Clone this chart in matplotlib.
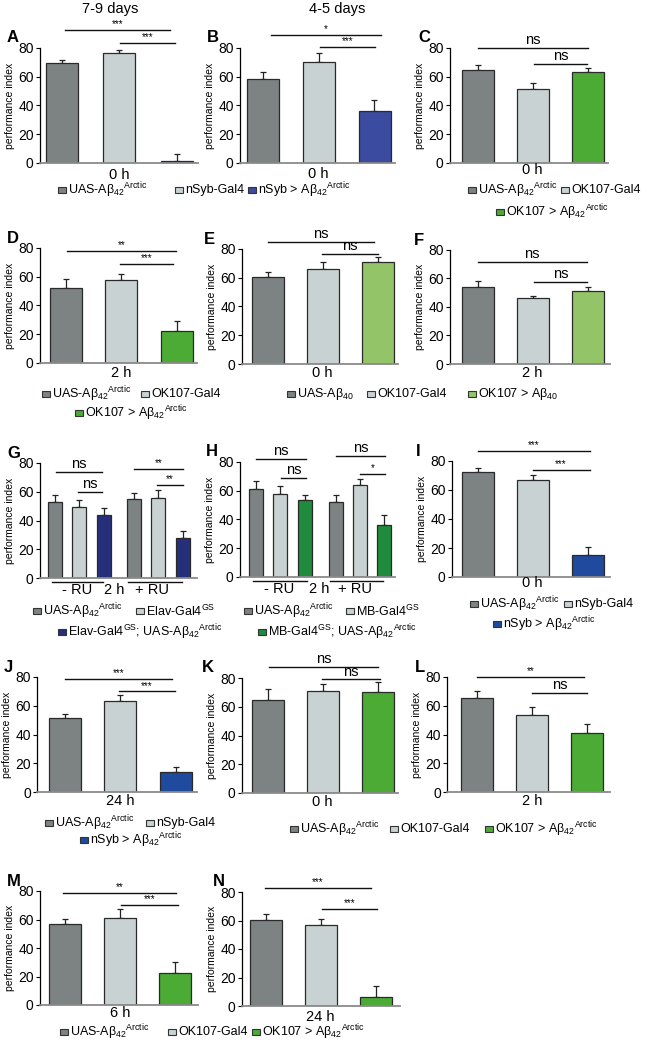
import numpy as np
import matplotlib
matplotlib.use('Agg')
import matplotlib.pyplot as plt
from matplotlib.patches import Rectangle

plt.rcParams['font.family'] = ['Liberation Sans', 'DejaVu Sans']
plt.rcParams['mathtext.fontset'] = 'custom'
plt.rcParams['mathtext.rm'] = 'Liberation Sans'
plt.rcParams['mathtext.it'] = 'Liberation Sans:italic'
plt.rcParams['mathtext.bf'] = 'Liberation Sans:bold'

W, H = 657, 1051

# ---- data (performance index, mean and upper SEM) ----
a_mean = [69.5, 76.5, 1.5];   a_err = [2.3, 2.3, 4.7]
b_mean = [58.5, 70.5, 36];    b_err = [4.5, 6, 7.5]
c_mean = [65, 51.5, 63.3];    c_err = [3.4, 4.1, 2.8]
d_mean = [52.5, 58, 22];      d_err = [5.8, 4.1, 7.4]
e_mean = [60.5, 66.3, 70.7];  e_err = [3.2, 4.4, 3.7]
f_mean = [53.9, 46.2, 51.5];  f_err = [4.4, 1.4, 2.6]
g_mean = [53.2, 49.7, 43.8, 54.8, 55.5, 27.5]; g_err = [4.2, 4.6, 5.2, 4.2, 5.8, 5.4]
h_mean = [61.4, 58, 53.8, 52.2, 64.2, 36.4];   h_err = [5.4, 5, 3, 5.1, 4.2, 7]
i_mean = [72.6, 66.9, 15];    i_err = [2.3, 3.4, 5.7]
j_mean = [51.5, 63.5, 13.7];  j_err = [2.8, 4.2, 3.7]
k_mean = [64.8, 71.1, 70.2];  k_err = [7.5, 4.7, 6.8]
l_mean = [65.3, 53.6, 40.8];  l_err = [5.1, 5.4, 6.3]
m_mean = [56.8, 60.8, 22.7];  m_err = [3.6, 6.6, 7.7]
n_mean = [60.6, 57.1, 6.1];   n_err = [4.2, 4.2, 8.1]

pos3 = [0, 1, 2]
pos6 = [0, 1, 2, 3.25, 4.25, 5.25]

# significance: (x0, x1, y, label)
a_sig = [(0.06, 1.88, 92.5, '***'), (1.01, 1.97, 83.5, '***')]
b_sig = [(0.14, 2.12, 89, '*'), (1.02, 2.01, 80.7, '***')]
c_sig = [(0, 2, 80, 'ns'), (1.03, 1.99, 69, 'ns')]
d_sig = [(0.03, 1.99, 78, '**'), (0.98, 1.94, 69, '***')]
e_sig = [(0, 1.93, 85, 'ns'), (0.99, 2.0, 76.5, 'ns')]
f_sig = [(0, 1.99, 71.6, 'ns'), (1.03, 1.99, 57.7, 'ns')]
g_sig = [(0.04, 1.93, 73.7, 'ns'), (0.95, 1.93, 60, 'ns'),
         (3.25, 5.27, 76, '**'), (4.2, 5.27, 65, '**')]
h_sig = [(0, 2.04, 82, 'ns'), (1.02, 2.04, 69, 'ns'),
         (3.27, 5.27, 84, 'ns'), (4.25, 5.27, 71.6, '*')]
i_sig = [(0, 2.04, 87, '***'), (1.0, 2.04, 74, '***')]
j_sig = [(0, 1.94, 78.6, '***'), (0.98, 1.99, 70, '***')]
k_sig = [(0.02, 2.01, 87.6, 'ns'), (0.99, 2.05, 79, 'ns')]
l_sig = [(0, 1.95, 80, '**'), (1.0, 2.0, 69, 'ns')]
m_sig = [(-0.03, 2.02, 78.6, '**'), (1.02, 2.05, 70, '***')]
n_sig = [(-0.01, 1.91, 83, '***'), (1.02, 2.02, 68, '***')]

# colours
dg = '#7c8382'
lg = '#c8d2d2'
navy_a = '#2b3990'
navy_b = '#3b4b9f'
navy_g = '#252f7a'
blue_i = '#1f4a9e'
green = '#4bab35'
lgreen = '#93c468'
dgreen = '#1f8b3c'

arc = 'Aβ$_{42}{}^{\\mathrm{Arctic}}$'
ab40 = 'Aβ$_{40}$'

fig = plt.figure(figsize=(W / 100, H / 100), dpi=100)


def panel(letter, left, right, top, zero, c0, clast, pos, mean, err, colors, sig, xlabel,
          xl_off=10, letter_x=None, bar_px=32):
    unit = (clast - c0) / (pos[-1] - pos[0])
    ax = fig.add_axes([left / W, 1 - zero / H, (right - left) / W, (zero - top) / H])
    x0 = -(c0 - left) / unit
    ax.bar(pos, mean, width=bar_px / unit, color=colors, edgecolor='#2a2a2a', linewidth=0.9, zorder=2)
    ax.errorbar(pos, mean, yerr=[np.zeros(len(mean)), err], fmt='none', ecolor='#222',
                elinewidth=0.9, capsize=2, capthick=0.9, zorder=1)
    ax.set_xlim(x0, x0 + (right - left) / unit)
    ax.set_ylim(0, 80)
    ax.set_yticks([0, 20, 40, 60, 80])
    ax.set_xticks([])
    ax.tick_params(axis='y', labelsize=10, length=3, width=0.8, pad=1.5)
    for s in ['top', 'right']:
        ax.spines[s].set_visible(False)
    ax.spines['left'].set_linewidth(0.9)
    ax.spines['bottom'].set_color('#8a8a8a')
    ax.spines['bottom'].set_linewidth(1.3)
    ax.set_ylabel('performance index', fontsize=7.5, labelpad=2)
    ppu = (zero - top) / 80.0
    for xa, xb, y, lab in sig:
        ax.plot([xa, xb], [y, y], color='#111', lw=1, clip_on=False)
        if lab == 'ns':
            ax.text((xa + xb) / 2, y + 0.6, lab, ha='center', va='bottom', fontsize=10.5)
        else:
            ax.text((xa + xb) / 2, y + 0.5, lab, ha='center', va='bottom', fontsize=7)
    if xlabel:
        ax.text(1, -xl_off / ppu, xlabel, ha='center', va='center', fontsize=10.5)
    lx = left - 33 if letter_x is None else letter_x
    fig.text(lx / W, 1 - (top - 10) / H, letter, fontsize=12, fontweight='bold',
             ha='left', va='center')
    return ax


def legend(items, y):
    for x, label, color in items:
        fig.add_artist(Rectangle((x / W, 1 - (y + 3) / H), 8 / W, 6 / H, transform=fig.transFigure,
                                 facecolor=color, edgecolor='#333', linewidth=0.8))
        fig.text((x + 10) / W, 1 - y / H, label, fontsize=9, ha='left', va='center')


fig.text(110 / W, 1 - 9 / H, '7-9 days', ha='center', va='center', fontsize=10.5)
fig.text(337 / W, 1 - 9 / H, '4-5 days', ha='center', va='center', fontsize=10.5)

# row 1
panel('A', 40, 198, 48, 163, 61.5, 177, pos3, a_mean, a_err, [dg, lg, navy_a], a_sig, '0 h', 12)
panel('B', 240, 395, 48, 163, 263, 374.5, pos3, b_mean, b_err, [dg, lg, navy_b], b_sig, '0 h', 11,
      letter_x=207)
panel('C', 450, 608, 48, 163, 477.5, 587.5, pos3, c_mean, c_err, [dg, lg, green], c_sig, '0 h', 7,
      letter_x=418)
legend([(58, 'UAS-' + arc, dg), (175, 'nSyb-Gal4', lg), (248, 'nSyb > ' + arc, navy_b)], 190)
legend([(468, 'UAS-' + arc, dg), (561, 'OK107-Gal4', lg)], 190)
legend([(496, 'OK107 > ' + arc, green)], 212)

# row 2
panel('D', 40, 197, 248, 363, 65.5, 176.5, pos3, d_mean, d_err, [dg, lg, green], d_sig, '2 h', 10)
panel('E', 242, 398, 249, 364, 267.5, 377.5, pos3, e_mean, e_err, [dg, lg, lgreen], e_sig, '0 h', 9,
      letter_x=204)
panel('F', 450, 610, 250, 364, 477.5, 587.5, pos3, f_mean, f_err, [dg, lg, lgreen], f_sig, '2 h', 9,
      letter_x=414)
legend([(42, 'UAS-' + arc, dg), (141, 'OK107-Gal4', lg)], 394)
legend([(75, 'OK107 > ' + arc, green)], 413)
legend([(287, 'UAS-' + ab40, dg), (367, 'OK107-Gal4', lg), (468, 'OK107 > ' + ab40, lgreen)], 394)

# row 3
ax = panel('G', 40, 197, 463, 578, 55, 182.5, pos6, g_mean, g_err, [dg, lg, navy_g] * 2, g_sig, None,
           bar_px=14)
ax.plot([-0.12, 1.98], [-2.8, -2.8], color='#111', lw=1, clip_on=False)
ax.plot([3.0, 5.23], [-2.8, -2.8], color='#111', lw=1, clip_on=False)
ax.text(0.9, -8.5, '- RU', ha='center', va='center', fontsize=10.5)
ax.text(2.45, -8.5, '2 h', ha='center', va='center', fontsize=10.5)
ax.text(4.0, -8.5, '+ RU', ha='center', va='center', fontsize=10.5)
ax = panel('H', 240, 395, 462, 577, 256, 384.5, pos6, h_mean, h_err, [dg, lg, dgreen] * 2, h_sig, None,
           letter_x=206, bar_px=14)
ax.plot([-0.12, 2.1], [-2.8, -2.8], color='#111', lw=1, clip_on=False)
ax.plot([3.02, 5.18], [-2.8, -2.8], color='#111', lw=1, clip_on=False)
ax.text(0.95, -8.5, '- RU', ha='center', va='center', fontsize=10.5)
ax.text(2.6, -8.5, '2 h', ha='center', va='center', fontsize=10.5)
ax.text(4.05, -8.5, '+ RU', ha='center', va='center', fontsize=10.5)
panel('I', 452, 610, 461, 577, 477.5, 587.5, pos3, i_mean, i_err, [dg, lg, blue_i], i_sig, '0 h', 6,
      letter_x=416)
legend([(33, 'UAS-' + arc, dg), (136, 'Elav-Gal4$^{\\mathrm{GS}}$', lg)], 611)
legend([(58, 'Elav-Gal4$^{\\mathrm{GS}}$; UAS-' + arc, navy_g)], 632)
legend([(244, 'UAS-' + arc, dg), (346, 'MB-Gal4$^{\\mathrm{GS}}$', lg)], 611)
legend([(258, 'MB-Gal4$^{\\mathrm{GS}}$; UAS-' + arc, dgreen)], 632)
legend([(470, 'UAS-' + arc, dg), (564, 'nSyb-Gal4', lg)], 604)
legend([(493, 'nSyb > ' + arc, blue_i)], 624)

# row 4
panel('J', 37, 197, 677, 792, 65, 175.5, pos3, j_mean, j_err, [dg, lg, blue_i], j_sig, '24 h', 9)
panel('K', 242, 398, 678, 793, 268, 377.5, pos3, k_mean, k_err, [dg, lg, green], k_sig, '0 h', 9,
      letter_x=202)
panel('L', 447, 610, 677, 792, 476.5, 587, pos3, l_mean, l_err, [dg, lg, green], l_sig, '2 h', 9,
      letter_x=415)
legend([(45, 'UAS-' + arc, dg), (146, 'nSyb-Gal4', lg)], 823)
legend([(80, 'nSyb > ' + arc, blue_i)], 840)
legend([(290, 'UAS-' + arc, dg), (390, 'OK107-Gal4', lg), (485, 'OK107 > ' + arc, green)], 829)

# row 5
panel('M', 40, 198, 891, 1005, 64.5, 175, pos3, m_mean, m_err, [dg, lg, green], m_sig, '6 h', 8)
panel('N', 242, 400, 892, 1006, 265.5, 376, pos3, n_mean, n_err, [dg, lg, green], n_sig, '24 h', 11,
      letter_x=213)
legend([(60, 'UAS-' + arc, dg), (168, 'OK107-Gal4', lg), (252, 'OK107 > ' + arc, green)], 1032)

fig.savefig('out.png', dpi=100)
